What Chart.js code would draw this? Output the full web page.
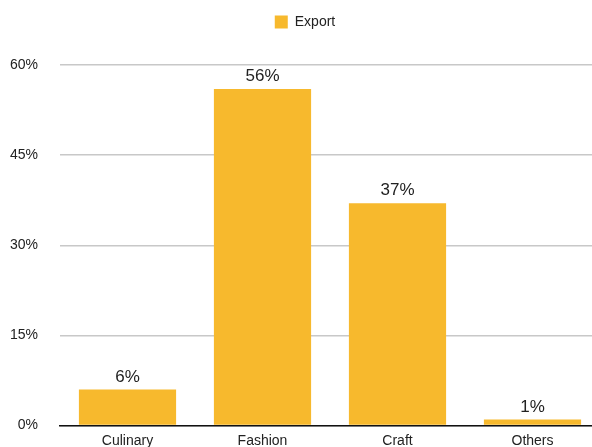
<!DOCTYPE html>
<html>
<head>
<meta charset="utf-8">
<script src="https://cdn.jsdelivr.net/npm/chart.js@4"></script>
<style>
  html, body { margin: 0; padding: 0; overflow: hidden; background: #fff; }
  #wrap { width: 616px; height: 456px; }
</style>
</head>
<body>
<div id="wrap"><canvas id="exportChart"></canvas></div>
<script>
var categories = ['Culinary', 'Fashion', 'Craft', 'Others'];
var exportValues = [6, 56, 37, 1];
var yTicks = [0, 15, 30, 45, 60];

// draws "56%" style labels above each bar
var barLabels = {
    id: 'barLabels',
    afterDatasetsDraw: function (chart) {
        var ctx = chart.ctx;
        ctx.save();
        ctx.font = '17px "Liberation Sans", Arial, sans-serif';
        ctx.fillStyle = '#222';
        ctx.textAlign = 'center';
        ctx.textBaseline = 'bottom';
        chart.getDatasetMeta(0).data.forEach(function (bar, i) {
            ctx.fillText(exportValues[i] + '%', bar.x, bar.y - 4);
        });
        ctx.restore();
    }
};

// extra room under the legend
var legendGap = {
    id: 'legendGap',
    beforeInit: function (chart) {
        var fit = chart.legend.fit;
        chart.legend.fit = function () {
            fit.bind(chart.legend)();
            this.height += 26;
        };
    }
};

document.addEventListener('DOMContentLoaded', function () {
    var ctx = document.getElementById('exportChart').getContext('2d');
    new Chart(ctx, {
        type: 'bar',
        data: {
            labels: categories,
            datasets: [{
                label: 'Export',
                data: exportValues,
                backgroundColor: '#F7B92D',
                borderWidth: 0,
                categoryPercentage: 1,
                barPercentage: 0.72
            }]
        },
        options: {
            responsive: true,
            maintainAspectRatio: false,
            animation: false,
            layout: { padding: { left: 10, right: 16, top: 0, bottom: 0 } },
            plugins: {
                legend: {
                    labels: {
                        boxWidth: 13,
                        boxHeight: 13,
                        color: '#222',
                        font: { family: '"Liberation Sans", Arial, sans-serif', size: 14 },
                        padding: 15
                    }
                },
                tooltip: { enabled: false }
            },
            scales: {
                x: {
                    grid: { display: false },
                    border: { color: '#111', width: 1.5 },
                    ticks: {
                        color: '#222',
                        padding: -1,
                        font: { family: '"Liberation Sans", Arial, sans-serif', size: 14 }
                    }
                },
                y: {
                    min: 0,
                    max: 60,
                    afterBuildTicks: function (axis) {
                        axis.ticks = yTicks.map(function (v) { return { value: v }; });
                    },
                    afterFit: function (axis) { axis.width = 50; },
                    grid: { color: '#c8c8c8', lineWidth: 1.5, drawTicks: false },
                    border: { display: false },
                    ticks: {
                        color: '#222',
                        padding: 22,
                        font: { family: '"Liberation Sans", Arial, sans-serif', size: 14 },
                        callback: function (v) { return v + '%'; }
                    }
                }
            }
        },
        plugins: [barLabels, legendGap]
    });
});
</script>
</body>
</html>
